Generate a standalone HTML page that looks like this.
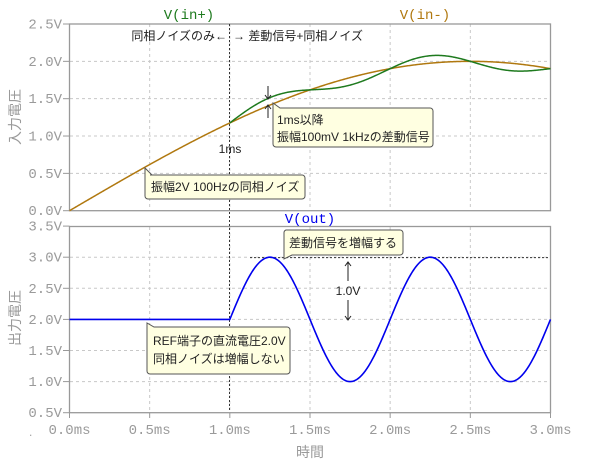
<!DOCTYPE html>
<html><head><meta charset="utf-8"><style>
body{margin:0;background:#fff}
svg{display:block}
.t{font-family:"Liberation Mono",monospace;font-size:14px;fill:#9a9a9a}
.j{font-family:"Liberation Sans","Noto Sans CJK JP",sans-serif;font-size:12px;fill:#222}
.ax{font-family:"Liberation Sans","Noto Sans CJK JP",sans-serif;font-size:14px;fill:#9a9a9a}
.g{stroke:#c8c8c8;stroke-dasharray:3,3;stroke-width:1}
.box{fill:#ffffe1;stroke:#555;stroke-width:1}
</style></head><body>
<svg id="s" width="600" height="469" viewBox="0 0 600 469">
<g id="grid"></g>
<rect x="69.5" y="24" width="481" height="186.7" fill="none" stroke="#999" stroke-width="1.3"/>
<rect x="69.5" y="226.5" width="481" height="186.2" fill="none" stroke="#999" stroke-width="1.3"/>
<line x1="229.5" y1="24" x2="229.5" y2="412" stroke="#333" stroke-dasharray="2,2"/>
<line x1="250" y1="257.6" x2="550" y2="257.6" stroke="#333" stroke-dasharray="2,2"/>
<path id="pm" fill="none" stroke="#b0780f" stroke-width="1.5"/>
<path id="pp" fill="none" stroke="#1e7a1e" stroke-width="1.5"/>
<path id="po" fill="none" stroke="#0000ee" stroke-width="1.6"/>
<g id="lbl"></g>
<text x="189" y="19" text-anchor="middle" style="font-family:'Liberation Mono',monospace;font-size:14px;fill:#1e7a1e">V(in+)</text>
<text x="425" y="19" text-anchor="middle" style="font-family:'Liberation Mono',monospace;font-size:14px;fill:#b0780f">V(in-)</text>
<text x="310" y="223" text-anchor="middle" style="font-family:'Liberation Mono',monospace;font-size:14px;fill:#0000ee">V(out)</text>
<text class="ax" transform="translate(20,117) rotate(-90)" text-anchor="middle">入力電圧</text>
<text class="ax" transform="translate(20,318) rotate(-90)" text-anchor="middle">出力電圧</text>
<text class="ax" x="310" y="457" text-anchor="middle">時間</text>
<text class="t" x="28" y="436" style="font-size:9px">.</text>
<text class="j" x="227" y="40" text-anchor="end">同相ノイズのみ←</text>
<text class="j" x="233" y="40">→ 差動信号+同相ノイズ</text>
<text class="j" x="230" y="153" text-anchor="middle">1ms</text>
<g stroke="#222" fill="none" stroke-width="1">
<path d="M268 86V99M265 95L268 99L271 95"/>
<path d="M268 118V105M265 109L268 105L271 109"/>
<path d="M348 281V262M345 266L348 262L351 266"/>
<path d="M348 300V320M345 316L348 320L351 316"/>
</g>
<text class="j" x="348" y="295" text-anchor="middle">1.0V</text>
<path class="box" d="M150 175H302a3 3 0 0 1 3 3V196a3 3 0 0 1-3 3H148a3 3 0 0 1-3-3V168L152 175Z"/>
<text class="j" x="151" y="191">振幅2V 100Hzの同相ノイズ</text>
<path class="box" d="M280 108H430a3 3 0 0 1 3 3V144a3 3 0 0 1-3 3H276a3 3 0 0 1-3-3V103L280 108Z"/>
<text class="j" x="277" y="124">1ms以降</text>
<text class="j" x="277" y="141">振幅100mV 1kHzの差動信号</text>
<path class="box" d="M286 230H400a3 3 0 0 1 3 3V252a3 3 0 0 1-3 3H292L284 259V233a3 3 0 0 1 2-3Z"/>
<text class="j" x="289" y="247">差動信号を増幅する</text>
<path class="box" d="M154 327H287a3 3 0 0 1 3 3V371a3 3 0 0 1-3 3H150a3 3 0 0 1-3-3V323L154 327Z"/>
<text class="j" x="153" y="345">REF端子の直流電圧2.0V</text>
<text class="j" x="153" y="363">同相ノイズは増幅しない</text>
</svg>
<script>
var X=t=>69.5+t*160.33, Y1=v=>210.7-v*74.68, Y2=v=>412.7-(v-0.5)*62.2;
var g='',l='';
for(var i=1;i<6;i++){var x=X(i*0.5);g+=`<line class="g" x1="${x}" y1="24" x2="${x}" y2="210"/><line class="g" x1="${x}" y1="227" x2="${x}" y2="412"/>`;}
for(var i=0;i<=5;i++){var y=Y1(i*0.5);if(i>0&&i<5)g+=`<line class="g" x1="70" y1="${y}" x2="550" y2="${y}"/>`;l+=`<line x1="63" y1="${y}" x2="69.5" y2="${y}" stroke="#999"/><text class="t" x="62" y="${y+4.5}" text-anchor="end">${(i*0.5).toFixed(1)}V</text>`;}
for(var i=0;i<=6;i++){var v=0.5+i*0.5,y=Y2(v);if(i>0&&i<6)g+=`<line class="g" x1="70" y1="${y}" x2="550" y2="${y}"/>`;l+=`<line x1="63" y1="${y}" x2="69.5" y2="${y}" stroke="#999"/><text class="t" x="62" y="${y+4.5}" text-anchor="end">${v.toFixed(1)}V</text>`;}
for(var i=0;i<=6;i++){var x=X(i*0.5);l+=`<line x1="${x}" y1="412.7" x2="${x}" y2="418" stroke="#999"/><text class="t" x="${x}" y="434" text-anchor="middle">${(i*0.5).toFixed(1)}ms</text>`;}
document.getElementById('grid').innerHTML=g;document.getElementById('lbl').innerHTML=l;
var m='',p='',o='';
for(var k=0;k<=600;k++){var t=k*0.005,vm=2*Math.sin(2*Math.PI*0.1*t),d=t>1?Math.sin(2*Math.PI*(t-1)):0;
var c=k?'L':'M';m+=c+X(t).toFixed(2)+' '+Y1(vm).toFixed(2);
if(t>=1)p+=(p?'L':'M')+X(t).toFixed(2)+' '+Y1(vm+0.1*d).toFixed(2);
o+=c+X(t).toFixed(2)+' '+Y2(2+d).toFixed(2);}
document.getElementById('pm').setAttribute('d',m);document.getElementById('pp').setAttribute('d',p);document.getElementById('po').setAttribute('d',o);
</script>
</body></html>
